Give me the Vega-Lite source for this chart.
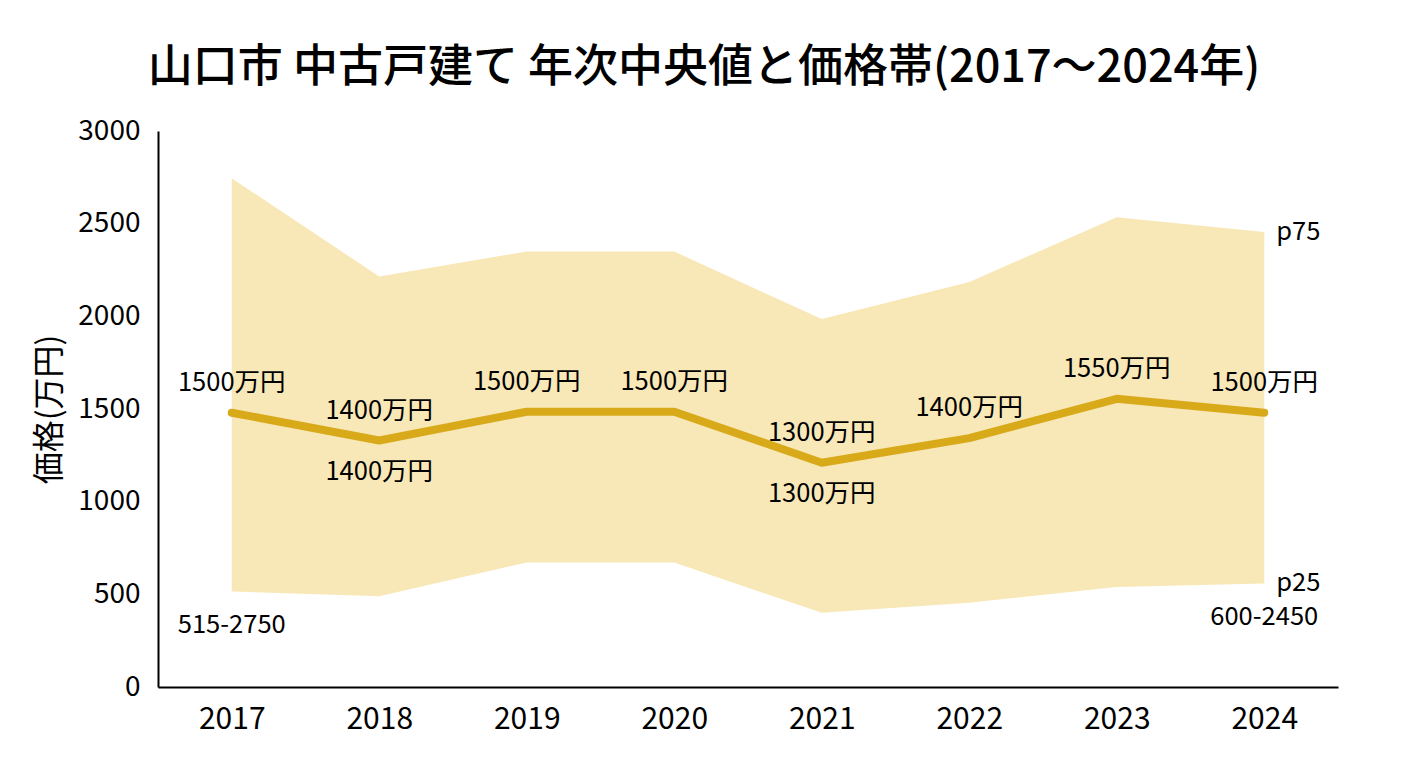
{
  "$schema": "https://vega.github.io/schema/vega-lite/v6.json",
  "autosize": {"type": "none"},
  "padding": {"left": 158, "top": 131, "right": 70, "bottom": 81},
  "width": 1180,
  "height": 556,
  "background": "white",
  "title": {
    "text": "山口市 中古戸建て 年次中央値と価格帯(2017～2024年)",
    "font": "Noto Sans CJK JP",
    "fontSize": 45,
    "fontWeight": 500,
    "color": "black",
    "anchor": "middle",
    "frame": "group",
    "dx": -44,
    "baseline": "middle",
    "offset": 4
  },
  "data": {
    "values": [
      {"year": "2017", "p25": 515, "median": 1480, "p75": 2745, "label": "1500万円", "below": null, "range": "515-2750"},
      {"year": "2018", "p25": 490, "median": 1330, "p75": 2215, "label": "1400万円", "below": "1400万円", "range": null},
      {"year": "2019", "p25": 672, "median": 1485, "p75": 2350, "label": "1500万円", "below": null, "range": null},
      {"year": "2020", "p25": 672, "median": 1485, "p75": 2350, "label": "1500万円", "below": null, "range": null},
      {"year": "2021", "p25": 400, "median": 1210, "p75": 1985, "label": "1300万円", "below": "1300万円", "range": null},
      {"year": "2022", "p25": 455, "median": 1343, "p75": 2185, "label": "1400万円", "below": null, "range": null},
      {"year": "2023", "p25": 540, "median": 1555, "p75": 2535, "label": "1550万円", "below": null, "range": null},
      {"year": "2024", "p25": 558, "median": 1480, "p75": 2455, "label": "1500万円", "below": null, "range": "600-2450"}
    ]
  },
  "encoding": {
    "x": {
      "field": "year",
      "type": "ordinal",
      "scale": {"type": "point", "padding": 0.5},
      "axis": {
        "title": null,
        "labelAngle": 0,
        "labelFontSize": 30,
        "labelFont": "Noto Sans CJK JP",
        "labelColor": "black",
        "labelPadding": 17,
        "ticks": false,
        "domainColor": "black",
        "domainWidth": 2
      }
    }
  },
  "layer": [
    {
      "mark": {"type": "area", "color": "#F8E8B8", "opacity": 1},
      "encoding": {
        "y": {
          "field": "p25",
          "type": "quantitative",
          "scale": {"domain": [0, 3000]},
          "axis": {
            "title": "価格(万円)",
            "titleFont": "Noto Sans CJK JP",
            "titleFontSize": 32,
            "titleFontWeight": "normal",
            "titleColor": "black",
            "titlePadding": 11,
            "values": [0, 500, 1000, 1500, 2000, 2500, 3000],
            "format": "d",
            "grid": false,
            "ticks": false,
            "labelFlush": false,
            "labelFont": "Noto Sans CJK JP",
            "labelFontSize": 28,
            "labelColor": "black",
            "labelPadding": 18,
            "domainColor": "black",
            "domainWidth": 2
          }
        },
        "y2": {"field": "p75"}
      }
    },
    {
      "mark": {"type": "line", "color": "#D8AA1A", "strokeWidth": 8, "strokeCap": "round", "strokeJoin": "round"},
      "encoding": {"y": {"field": "median", "type": "quantitative"}}
    },
    {
      "mark": {"type": "text", "font": "Noto Sans CJK JP", "fontSize": 25.5, "color": "black", "baseline": "middle", "dy": -30},
      "encoding": {
        "y": {"field": "median", "type": "quantitative"},
        "text": {"field": "label"}
      }
    },
    {
      "transform": [{"filter": "datum.below != null"}],
      "mark": {"type": "text", "font": "Noto Sans CJK JP", "fontSize": 25.5, "color": "black", "baseline": "middle", "dy": 31},
      "encoding": {
        "y": {"field": "median", "type": "quantitative"},
        "text": {"field": "below"}
      }
    },
    {
      "transform": [{"filter": "datum.range != null"}],
      "mark": {"type": "text", "font": "Noto Sans CJK JP", "fontSize": 25.5, "color": "black", "baseline": "middle", "dy": 33},
      "encoding": {
        "y": {"field": "p25", "type": "quantitative"},
        "text": {"field": "range"}
      }
    },
    {
      "transform": [{"filter": "datum.year == '2024'"}],
      "mark": {"type": "text", "font": "Noto Sans CJK JP", "fontSize": 25.5, "color": "black", "baseline": "middle", "align": "left", "dx": 12},
      "encoding": {
        "y": {"field": "p75", "type": "quantitative"},
        "text": {"value": "p75"}
      }
    },
    {
      "transform": [{"filter": "datum.year == '2024'"}],
      "mark": {"type": "text", "font": "Noto Sans CJK JP", "fontSize": 25.5, "color": "black", "baseline": "middle", "align": "left", "dx": 12, "dy": -1},
      "encoding": {
        "y": {"field": "p25", "type": "quantitative"},
        "text": {"value": "p25"}
      }
    }
  ],
  "config": {"view": {"stroke": null}}
}
